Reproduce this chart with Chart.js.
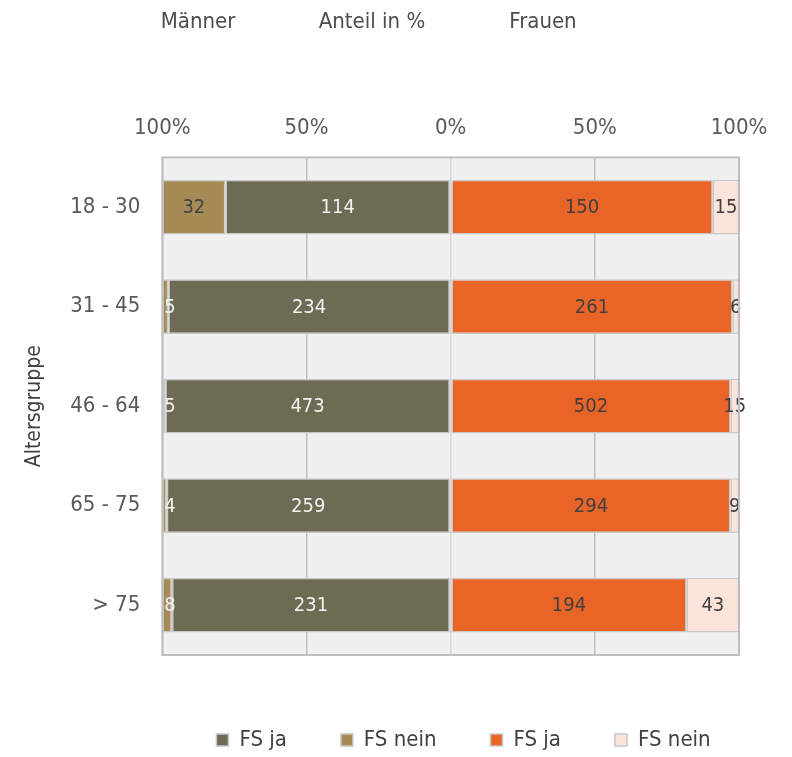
<!DOCTYPE html>
<html>
<head>
<meta charset="utf-8">
<script src="https://cdn.jsdelivr.net/npm/chart.js@4"></script>
<style>
    html, body { margin: 0; background: #fff; }
    #wrap { width: 792px; height: 757px; }
</style>
</head>
<body>
<div id="wrap"><canvas id="myChart"></canvas></div>
<script>
const ageGroups = ['18 - 30', '31 - 45', '46 - 64', '65 - 75', '> 75'];
const menYes = [114, 234, 473, 259, 231];
const menNo = [32, 5, 5, 4, 8];
const womenYes = [150, 261, 502, 294, 194];
const womenNo = [15, 6, 15, 9, 43];
const seriesNames = ['FS ja', 'FS nein', 'FS ja', 'FS nein'];
const headers = ['Männer', 'Anteil in %', 'Frauen'];

const FONT = "'DejaVu Sans Condensed', 'DejaVu Sans', sans-serif";

// share of each group in %, men drawn to the left
function share(part, other, sign) {
    return part.map((v, i) => sign * v / (v + other[i]) * 100);
}

const plotBackground = {
    id: 'plotBackground',
    beforeDraw(chart) {
        const { ctx, chartArea: a } = chart;
        ctx.save();
        ctx.fillStyle = '#f0f0f0';
        ctx.fillRect(a.left, a.top, a.right - a.left, a.bottom - a.top);
        ctx.restore();
    }
};

const barLabels = {
    id: 'barLabels',
    afterDatasetsDraw(chart) {
        const { ctx, chartArea: a } = chart;
        ctx.save();
        ctx.font = '20px ' + FONT;
        ctx.textAlign = 'center';
        ctx.textBaseline = 'middle';
        chart.data.datasets.forEach((ds, di) => {
            chart.getDatasetMeta(di).data.forEach((bar, i) => {
                const text = String(ds.counts[i]);
                const w = ctx.measureText(text).width;
                let x = (bar.x + bar.base) / 2;
                if (di < 2) x = Math.max(x, a.left + w / 2 + 2);
                const big = Math.abs(bar.x - bar.base) > w + 4;
                if (di === 0) ctx.fillStyle = '#f2f2f2';
                else if (di === 1) ctx.fillStyle = big ? '#404040' : '#f2f2f2';
                else ctx.fillStyle = '#404040';
                ctx.fillText(text, x, bar.y + 1);
            });
        });
        ctx.restore();
    },
    afterDraw(chart) {
        const { ctx, chartArea: a } = chart;
        ctx.save();
        ctx.strokeStyle = '#bfbfbf';
        ctx.lineWidth = 2;
        ctx.strokeRect(a.left, a.top, a.right - a.left, a.bottom - a.top);
        ctx.font = '22px ' + FONT;
        ctx.fillStyle = '#4d4d4d';
        ctx.textAlign = 'center';
        ctx.textBaseline = 'middle';
        ctx.fillText(headers[0], 198, 22);
        ctx.fillText(headers[1], 372, 22);
        ctx.fillText(headers[2], 543, 22);
        ctx.restore();
    }
};

const legendShift = {
    id: 'legendShift',
    afterLayout(chart) {
        chart.legend.left += 83;
        chart.legend.right += 83;
    }
};

const config = {
    type: 'bar',
    data: {
        labels: ageGroups,
        datasets: [
            { label: seriesNames[0], data: share(menYes, menNo, -1), counts: menYes, backgroundColor: '#6d6b53' },
            { label: seriesNames[1], data: share(menNo, menYes, -1), counts: menNo, backgroundColor: '#a68b57' },
            { label: seriesNames[2], data: share(womenYes, womenNo, 1), counts: womenYes, backgroundColor: '#e96427' },
            { label: seriesNames[3], data: share(womenNo, womenYes, 1), counts: womenNo, backgroundColor: '#fce4da' }
        ]
    },
    options: {
        indexAxis: 'y',
        responsive: true,
        maintainAspectRatio: false,
        animation: false,
        datasets: {
            bar: {
                borderColor: '#c8c8c8',
                borderWidth: 1.5,
                borderSkipped: false,
                categoryPercentage: 1,
                barPercentage: 0.55
            }
        },
        layout: {
            padding: { top: 99, left: 22, right: 53, bottom: -4 }
        },
        scales: {
            x: {
                position: 'top',
                stacked: true,
                min: -100,
                max: 100,
                ticks: {
                    stepSize: 50,
                    padding: 16,
                    color: '#595959',
                    font: { family: FONT, size: 22 },
                    callback: v => Math.abs(v) + '%'
                },
                grid: {
                    drawTicks: false,
                    lineWidth: 1.5,
                    color: c => c.tick && c.tick.value === 0 ? '#dadada' : '#c0c0c0'
                },
                border: { display: false }
            },
            y: {
                stacked: true,
                ticks: {
                    padding: 14,
                    color: '#595959',
                    font: { family: FONT, size: 22 }
                },
                grid: { display: false },
                border: { display: false },
                title: {
                    display: true,
                    text: 'Altersgruppe',
                    color: '#404040',
                    font: { family: FONT, size: 21 },
                    padding: { top: 0, bottom: 9 }
                }
            }
        },
        plugins: {
            legend: {
                position: 'bottom',
                title: { display: true, text: '', padding: 0, font: { size: 10, lineHeight: 2.0 } },
                labels: {
                    boxWidth: 12,
                    boxHeight: 12,
                    padding: 54,
                    color: '#404040',
                    font: { family: FONT, size: 22 }
                }
            },
            tooltip: { enabled: false }
        }
    },
    plugins: [plotBackground, barLabels, legendShift]
};

const myChart = new Chart(document.getElementById('myChart'), config);
</script>
</body>
</html>
